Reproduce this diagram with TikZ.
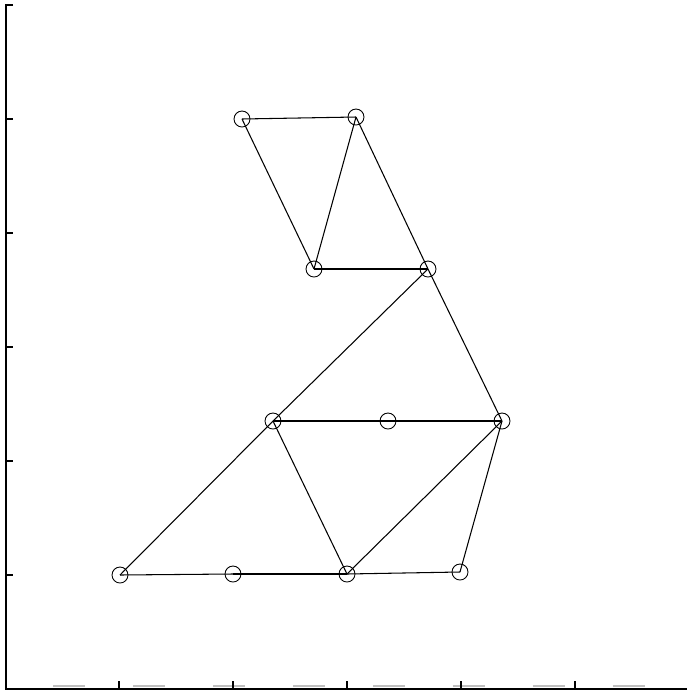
\documentclass[tikz,border=0pt]{standalone}
\begin{document}
\begin{tikzpicture}[x=0.02cm,y=-0.02cm,
  vert/.style={circle,draw,inner sep=0pt,minimum size=0.32cm,line width=0.5pt},
  edge/.style={line width=0.6pt},
  axis/.style={line width=1.2pt},
  tick/.style={line width=0.8pt},
  grayband/.style={line width=1.6pt,color=black!25,dash pattern=on 18.2pt off 27.3pt}]
\useasboundingbox (0,0) rectangle (687,691);
% axes
\coordinate (o) at (6,689);
\coordinate (ytop) at (6,5);
\coordinate (xend) at (687,689);
\coordinate (g0) at (53,686);
\coordinate (g1) at (687,686);
\draw[grayband] (g0) -- (g1);
\draw[axis] (13,5) -- (ytop) -- (o) -- (xend);
\foreach \v in {119,233,347,461,575}{
  \draw[tick] (6,\v) -- (13,\v);
  \draw[tick] (\v,689) -- (\v,681);
}
% vertices
\node[vert] (A) at (242,119) {};
\node[vert] (B) at (356,117) {};
\node[vert] (C) at (314,269) {};
\node[vert] (D) at (428,269) {};
\node[vert] (E) at (273,421) {};
\node[vert] (F) at (388,421) {};
\node[vert] (G) at (502,421) {};
\node[vert] (H) at (120,575) {};
\node[vert] (I) at (233,574) {};
\node[vert] (J) at (347,574) {};
\node[vert] (K) at (460,572) {};
% edges
\draw[edge] (A.center) -- (B.center);
\draw[edge] (A.center) -- (C.center);
\draw[edge] (B.center) -- (C.center);
\draw[edge] (B.center) -- (D.center);
\draw[edge] (C.center) -- (D.center);
\draw[edge] (D.center) -- (E.center);
\draw[edge] (D.center) -- (G.center);
\draw[edge] (E.center) -- (F.center);
\draw[edge] (F.center) -- (G.center);
\draw[edge] (E.center) -- (H.center);
\draw[edge] (E.center) -- (J.center);
\draw[edge] (J.center) -- (G.center);
\draw[edge] (G.center) -- (K.center);
\draw[edge] (H.center) -- (I.center);
\draw[edge] (I.center) -- (J.center);
\draw[edge] (J.center) -- (K.center);
\end{tikzpicture}
\end{document}
